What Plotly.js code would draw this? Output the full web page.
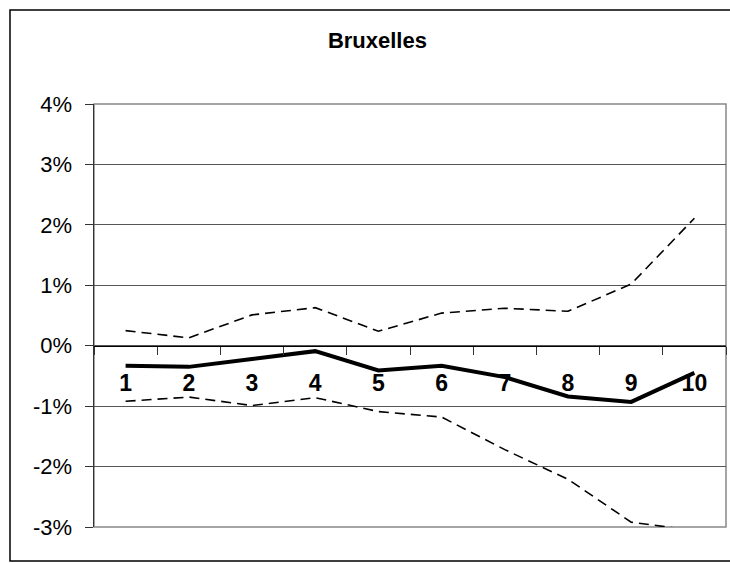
<!DOCTYPE html>
<html>
<head>
<meta charset="utf-8">
<script src="https://cdn.plot.ly/plotly-3.0.1.min.js"></script>
<style>html,body{margin:0;padding:0;background:#fff;}#chart{width:730px;height:563px;}</style>
</head>
<body>
<div id="chart"></div>
<script>
var categories = ['1','2','3','4','5','6','7','8','9','10'];
var central = [-0.33, -0.35, -0.22, -0.09, -0.41, -0.33, -0.52, -0.84, -0.93, -0.45];
var upper = [0.25, 0.13, 0.51, 0.63, 0.24, 0.54, 0.62, 0.57, 1.02, 2.11];
var lower = [-0.92, -0.85, -0.99, -0.86, -1.09, -1.18, -1.72, -2.21, -2.92, -3.06];
var yTickVals = [-3, -2, -1, 0, 1, 2, 3, 4];
var yTickLabels = ['-3%', '-2%', '-1%', '0%', '1%', '2%', '3%', '4%'];
var titleText = 'Bruxelles';

var font = 'Liberation Sans, Arial, sans-serif';
var dashStyle = {color: '#000', width: 1.6, dash: '10px,6px'};

var traces = [
  {x: categories, y: upper, type: 'scatter', mode: 'lines', line: dashStyle, hoverinfo: 'skip'},
  {x: categories, y: lower, type: 'scatter', mode: 'lines', line: dashStyle, hoverinfo: 'skip'},
  {x: categories, y: central, type: 'scatter', mode: 'lines', line: {color: '#000', width: 4}, hoverinfo: 'skip'}
];

var layout = {
  width: 730, height: 563,
  margin: {l: 94, r: 4, t: 104, b: 36},
  paper_bgcolor: '#fff', plot_bgcolor: '#fff',
  showlegend: false,
  font: {family: font, color: '#000'},
  title: {
    text: '<b>' + titleText + '</b>',
    font: {family: font, size: 22, color: '#000'},
    xref: 'container', x: 0.517, xanchor: 'center',
    yref: 'container', y: 0.928, yanchor: 'middle'
  },
  xaxis: {
    type: 'category',
    range: [-0.5, 9.5],
    anchor: 'free', position: 3/7,
    showline: true, linecolor: '#000', linewidth: 1,
    showgrid: false, zeroline: false,
    tickson: 'boundaries',
    ticks: 'outside', ticklen: 8, tickcolor: '#333', tickwidth: 1,
    ticklabelstandoff: 17,
    tickfont: {family: font, size: 23, color: '#000', weight: 'bold'},
    fixedrange: true
  },
  yaxis: {
    range: [-3, 4],
    tickmode: 'array', tickvals: yTickVals, ticktext: yTickLabels,
    showline: true, linecolor: '#333', linewidth: 1.5,
    showgrid: true, gridcolor: '#555', gridwidth: 1,
    zeroline: false,
    ticks: 'outside', ticklen: 8, tickcolor: '#333', tickwidth: 1,
    ticklabelstandoff: 8,
    tickfont: {family: font, size: 22, color: '#000'},
    fixedrange: true
  },
  shapes: [
    {type: 'rect', xref: 'paper', yref: 'paper', x0: 0, x1: 1, y0: 0, y1: 1,
     line: {color: '#888', width: 1.5}, layer: 'below'},
    {type: 'rect', xref: 'paper', yref: 'paper',
     x0: (10 - 94) / 632, x1: (732 - 94) / 632,
     y0: (527 - 561) / 423, y1: (527 - 10) / 423,
     line: {color: '#000', width: 1.5}, layer: 'below'}
  ]
};

Plotly.newPlot('chart', traces, layout, {staticPlot: true, displayModeBar: false});
</script>
</body>
</html>
